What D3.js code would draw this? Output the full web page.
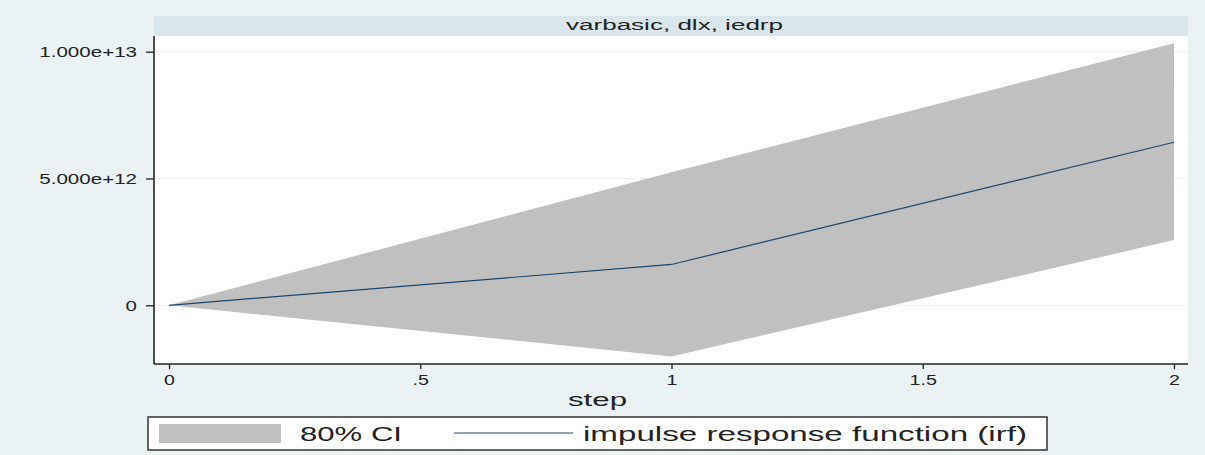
<!DOCTYPE html>
<html lang="en">
<head>
  <meta charset="UTF-8">
  <title>varbasic, dlx, iedrp</title>
  <script src="https://d3js.org/d3.v7.min.js"></script>
  <style>
    body {
      margin: 0;
      background: #eaf2f3;
      font-family: "Liberation Sans", Arial, sans-serif;
    }
  </style>
</head>
<body>
  <div id="chart"></div>

  <script>
    const width = 1205, height = 455;

    // data
    const steps = [0, 1, 2];
    const irf   = [0, 1.61e12, 6.43e12];
    const lower = [0, -2.02e12, 2.57e12];
    const upper = [0, 5.25e12, 10.33e12];
    const yTicks = [0, 5e12, 1e13];
    const xTicks = [0, 0.5, 1, 1.5, 2];
    const panelTitle = "varbasic, dlx, iedrp";
    const legendLabels = ["80% CI", "impulse response function (irf)"];

    const plot = {left: 154, right: 1188, top: 36, bottom: 364};

    const svg = d3.select("#chart").append("svg")
        .attr("width", width)
        .attr("height", height);

    svg.append("rect")
      .attr("width", width).attr("height", height)
      .attr("fill", "#eaf2f3");

    const x = d3.scaleLinear()
        .domain([-0.0299, 2.0279])
        .range([plot.left, plot.right]);

    const y = d3.scaleLinear()
        .domain([-2.315e12, 1.0619e13])
        .range([plot.bottom, plot.top]);

    // title strip
    svg.append("rect")
      .attr("x", plot.left).attr("y", 16)
      .attr("width", plot.right - plot.left).attr("height", plot.top - 16)
      .attr("fill", "#d9e6eb");

    svg.append("text")
      .attr("x", 566).attr("y", 29.5)
      .attr("font-size", 14)
      .attr("fill", "#222")
      .attr("textLength", 217)
      .attr("lengthAdjust", "spacingAndGlyphs")
      .text(panelTitle);

    // plot region
    svg.append("rect")
      .attr("x", plot.left).attr("y", plot.top)
      .attr("width", plot.right - plot.left).attr("height", plot.bottom - plot.top)
      .attr("fill", "#ffffff");

    // gridlines
    svg.append("g")
      .selectAll("line")
      .data(yTicks)
      .join("line")
        .attr("x1", plot.left).attr("x2", plot.right)
        .attr("y1", d => y(d)).attr("y2", d => y(d))
        .attr("stroke", "#eaf2f3")
        .attr("stroke-width", 1);

    const rows = steps.map((s, i) => ({s, lo: lower[i], hi: upper[i], v: irf[i]}));

    // confidence band
    svg.append("path")
      .datum(rows)
      .attr("fill", "#c0c0c0")
      .attr("d", d3.area()
        .x(d => x(d.s))
        .y0(d => y(d.lo))
        .y1(d => y(d.hi)));

    // irf line
    svg.append("path")
      .datum(rows)
      .attr("fill", "none")
      .attr("stroke", "#1a476f")
      .attr("stroke-width", 1.2)
      .attr("d", d3.line()
        .x(d => x(d.s))
        .y(d => y(d.v)));

    function stretch(sel, k) {
      sel.each(function() {
        const w = this.getComputedTextLength();
        d3.select(this)
          .attr("textLength", w * k)
          .attr("lengthAdjust", "spacingAndGlyphs");
      });
    }

    // y axis
    const yAxis = svg.append("g")
      .attr("transform", `translate(${plot.left},0)`)
      .call(d3.axisLeft(y)
        .tickValues(yTicks)
        .tickSize(8)
        .tickPadding(9)
        .tickFormat(d => d === 0 ? "0" : d.toExponential(3)));
    yAxis.select(".domain").remove();
    yAxis.selectAll(".tick line").attr("stroke", "#222").attr("stroke-width", 1.3);
    yAxis.selectAll(".tick text")
      .attr("font-size", 15)
      .attr("font-family", "Liberation Sans, Arial, sans-serif")
      .attr("fill", "#222");
    stretch(yAxis.selectAll(".tick text"), 1.37);

    svg.append("line")
      .attr("x1", plot.left).attr("x2", plot.left)
      .attr("y1", plot.top).attr("y2", plot.bottom)
      .attr("stroke", "#222").attr("stroke-width", 1.6);

    // x axis
    const xAxis = svg.append("g")
      .attr("transform", `translate(0,${plot.bottom})`)
      .call(d3.axisBottom(x)
        .tickValues(xTicks)
        .tickSize(5)
        .tickPadding(6)
        .tickFormat(d => String(d).replace(/^0\./, ".")));
    xAxis.select(".domain").remove();
    xAxis.selectAll(".tick line").attr("stroke", "#222").attr("stroke-width", 1.3);
    xAxis.selectAll(".tick text")
      .attr("font-size", 14)
      .attr("font-family", "Liberation Sans, Arial, sans-serif")
      .attr("fill", "#222");
    stretch(xAxis.selectAll(".tick text"), 1.4);

    svg.append("line")
      .attr("x1", plot.left).attr("x2", plot.right)
      .attr("y1", plot.bottom).attr("y2", plot.bottom)
      .attr("stroke", "#222").attr("stroke-width", 1.6);

    svg.append("text")
      .attr("x", 568).attr("y", 406)
      .attr("font-size", 19)
      .attr("fill", "#222")
      .attr("textLength", 59)
      .attr("lengthAdjust", "spacingAndGlyphs")
      .text("step");

    // legend
    const legend = svg.append("g");
    legend.append("rect")
      .attr("x", 148).attr("y", 417)
      .attr("width", 899).attr("height", 33)
      .attr("fill", "#ffffff")
      .attr("stroke", "#333")
      .attr("stroke-width", 1.5);
    legend.append("rect")
      .attr("x", 159).attr("y", 424)
      .attr("width", 122).attr("height", 19)
      .attr("fill", "#c0c0c0");
    legend.append("text")
      .attr("x", 300).attr("y", 441)
      .attr("font-size", 20)
      .attr("fill", "#222")
      .attr("textLength", 102)
      .attr("lengthAdjust", "spacingAndGlyphs")
      .text(legendLabels[0]);
    legend.append("line")
      .attr("x1", 454).attr("x2", 573)
      .attr("y1", 433).attr("y2", 433)
      .attr("stroke", "#1a476f")
      .attr("stroke-width", 1.2);
    legend.append("text")
      .attr("x", 583).attr("y", 441)
      .attr("font-size", 20)
      .attr("fill", "#222")
      .attr("textLength", 444)
      .attr("lengthAdjust", "spacingAndGlyphs")
      .text(legendLabels[1]);
  </script>
</body>
</html>
